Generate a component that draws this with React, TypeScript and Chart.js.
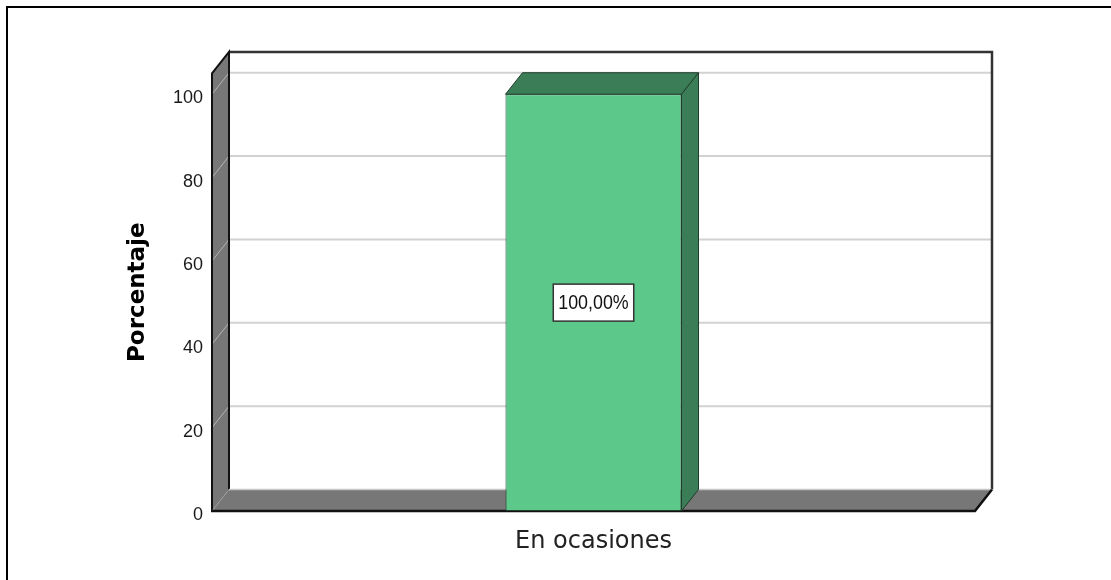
import React, { useEffect, useRef } from 'react';
import { Chart, registerables } from 'chart.js';

Chart.register(...registerables);

const categories = ['En ocasiones'];
const percentages = [100];
const valueLabels = ['100,00%'];
const yTicks = [0, 20, 40, 60, 80, 100];
const yMax = 105;

const DX = 17;
const DY = -21.5;

const ARIAL = "'Liberation Sans', Arial, sans-serif";

const threeD = {
  id: 'threeD',
  beforeDraw(chart: any) {
    const ctx = chart.ctx;
    ctx.save();
    ctx.fillStyle = '#ffffff';
    ctx.fillRect(0, 0, chart.width, chart.height);
    ctx.strokeStyle = '#000000';
    ctx.lineWidth = 2;
    ctx.beginPath();
    ctx.moveTo(7, chart.height + 5);
    ctx.lineTo(7, 7);
    ctx.lineTo(chart.width + 5, 7);
    ctx.stroke();
    ctx.restore();
  },
  beforeDatasetsDraw(chart: any) {
    const { ctx, chartArea: a, scales } = chart;
    const y = scales.y;
    const L = a.left, R = a.right, T = a.top;
    const B = y.getPixelForValue(0);
    ctx.save();
    // left wall
    ctx.fillStyle = '#777777';
    ctx.beginPath();
    ctx.moveTo(L, B); ctx.lineTo(L, T); ctx.lineTo(L + DX, T + DY); ctx.lineTo(L + DX, B + DY); ctx.closePath();
    ctx.fill();
    // diagonals on left wall
    ctx.strokeStyle = '#b5b5b5';
    ctx.lineWidth = 1;
    yTicks.forEach((v) => {
      if (v === 0) return;
      const p = y.getPixelForValue(v);
      ctx.beginPath(); ctx.moveTo(L, p); ctx.lineTo(L + DX, p + DY); ctx.stroke();
    });
    // back gridlines
    ctx.strokeStyle = '#d2d2d2';
    ctx.lineWidth = 2;
    yTicks.forEach((v) => {
      if (v === 0) return;
      const p = y.getPixelForValue(v) + DY;
      ctx.beginPath(); ctx.moveTo(L + DX, p); ctx.lineTo(R + DX, p); ctx.stroke();
    });
    // back wall frame
    ctx.strokeStyle = '#333333';
    ctx.lineWidth = 2.5;
    ctx.beginPath();
    ctx.moveTo(L + DX, T + DY); ctx.lineTo(R + DX, T + DY); ctx.lineTo(R + DX, B + DY);
    ctx.stroke();
    // left wall outline
    ctx.strokeStyle = '#111111';
    ctx.lineWidth = 2;
    ctx.beginPath();
    ctx.moveTo(L, B); ctx.lineTo(L, T); ctx.lineTo(L + DX, T + DY); ctx.lineTo(L + DX, B + DY);
    ctx.stroke();
    // floor
    ctx.fillStyle = '#777777';
    ctx.beginPath();
    ctx.moveTo(L, B); ctx.lineTo(R, B); ctx.lineTo(R + DX, B + DY); ctx.lineTo(L + DX, B + DY); ctx.closePath();
    ctx.fill();
    ctx.strokeStyle = '#c8c8c8';
    ctx.lineWidth = 1.5;
    ctx.beginPath(); ctx.moveTo(L + DX, B + DY); ctx.lineTo(R + DX, B + DY); ctx.stroke();
    ctx.strokeStyle = '#9a9a9a';
    ctx.lineWidth = 1;
    ctx.beginPath(); ctx.moveTo(L, B); ctx.lineTo(L + DX, B + DY); ctx.stroke();
    ctx.strokeStyle = '#111111';
    ctx.lineWidth = 2.5;
    ctx.beginPath(); ctx.moveTo(L - 1, B); ctx.lineTo(R, B); ctx.lineTo(R + DX, B + DY); ctx.stroke();
    ctx.restore();
  },
  afterDatasetsDraw(chart: any) {
    const { ctx } = chart;
    const meta = chart.getDatasetMeta(0);
    ctx.save();
    meta.data.forEach((bar: any, i: number) => {
      const { x, y, base, width } = bar.getProps(['x', 'y', 'base', 'width'], true);
      const l = x - width / 2, r = x + width / 2;
      ctx.fillStyle = '#3a7d56';
      ctx.strokeStyle = '#1f3d2b';
      ctx.lineWidth = 1;
      // top face
      ctx.beginPath();
      ctx.moveTo(l, y); ctx.lineTo(r, y); ctx.lineTo(r + DX, y + DY); ctx.lineTo(l + DX, y + DY); ctx.closePath();
      ctx.fill(); ctx.stroke();
      // side face
      ctx.beginPath();
      ctx.moveTo(r, y); ctx.lineTo(r + DX, y + DY); ctx.lineTo(r + DX, base + DY); ctx.lineTo(r, base); ctx.closePath();
      ctx.fill(); ctx.stroke();
      // value label box
      const cy = (y + base) / 2;
      const sx = 0.85;
      ctx.font = `21px ${ARIAL}`;
      const text = valueLabels[i];
      const tw = ctx.measureText(text).width * sx;
      const bw = tw + 10, bh = 37;
      ctx.fillStyle = '#ffffff';
      ctx.fillRect(x - bw / 2, cy - bh / 2, bw, bh);
      ctx.strokeStyle = '#333333';
      ctx.lineWidth = 1.5;
      ctx.strokeRect(x - bw / 2, cy - bh / 2, bw, bh);
      ctx.fillStyle = '#111111';
      ctx.textAlign = 'center';
      ctx.textBaseline = 'middle';
      ctx.save();
      ctx.translate(x, cy + 1);
      ctx.scale(sx, 1);
      ctx.fillText(text, 0, 0);
      ctx.restore();
    });
    ctx.restore();
  },
};

export default function App() {
  const ref = useRef<HTMLCanvasElement | null>(null);
  useEffect(() => {
    if (!ref.current) return;
    const chart = new Chart(ref.current, {
      type: 'bar',
      data: {
        labels: categories,
        datasets: [
          {
            data: percentages,
            backgroundColor: '#5cc98b',
            borderColor: '#1f3d2b',
            borderWidth: 1,
            borderSkipped: false,
            barPercentage: 0.2307,
            categoryPercentage: 1,
          },
        ],
      },
      options: {
        responsive: false,
        animation: false,
        layout: { padding: { top: 73.4, right: 136, left: 0, bottom: 0 } },
        plugins: { legend: { display: false }, tooltip: { enabled: false } },
        scales: {
          x: {
            grid: { display: false, drawTicks: false },
            border: { display: false },
            ticks: {
              color: '#222222',
              padding: 16,
              font: { family: "'DejaVu Sans', sans-serif", size: 24 },
            },
            afterFit: (s: any) => { s.height = 69; },
          },
          y: {
            min: 0,
            max: yMax,
            grid: { display: false, drawTicks: false },
            border: { display: false },
            afterBuildTicks: (s: any) => { s.ticks = yTicks.map((v) => ({ value: v })); },
            ticks: {
              color: '#1a1a1a',
              padding: 9,
              labelOffset: 4,
              font: { family: ARIAL, size: 18 },
            },
            title: {
              display: true,
              text: 'Porcentaje',
              color: '#000000',
              padding: { top: 124, bottom: 0 },
              font: { family: "'DejaVu Sans', sans-serif", size: 23, weight: 'bold' },
            },
            afterFit: (s: any) => { s.width = 212; },
          },
        },
      },
      plugins: [threeD],
    });
    return () => chart.destroy();
  }, []);
  return (
    <div style={{ position: 'absolute', left: 0, top: 0, width: 1111, height: 580 }}>
      <canvas ref={ref} width={1111} height={580} />
    </div>
  );
}
